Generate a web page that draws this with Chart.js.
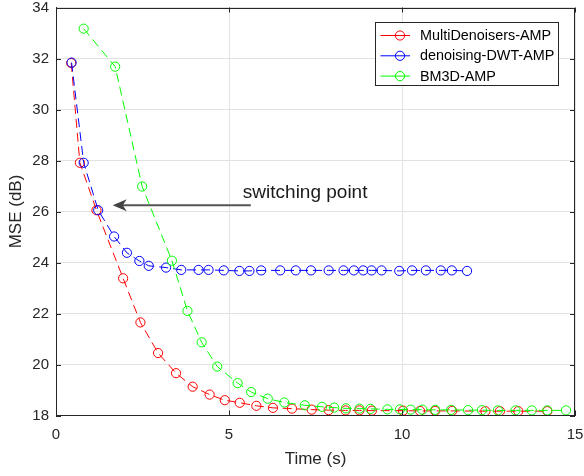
<!DOCTYPE html>
<html>
<head>
<meta charset="utf-8">
<script src="https://cdn.jsdelivr.net/npm/chart.js@4.4.1/dist/chart.umd.min.js"></script>
<style>
html,body{margin:0;padding:0;background:#fff;}
#wrap{width:584px;height:476px;position:relative;}
</style>
</head>
<body>
<div id="wrap"><canvas id="c" width="584" height="476"></canvas></div>
<script>
// ---- data ----
const seriesNames = ["MultiDenoisers-AMP", "denoising-DWT-AMP", "BM3D-AMP"];
const multiX = [0.44, 0.69, 1.17, 1.94, 2.44, 2.95, 3.47, 3.95, 4.44, 4.88, 5.31, 5.79, 6.27, 6.82, 7.39, 7.88, 8.37, 8.77, 9.13, 10.03, 10.52, 10.96, 11.45, 12.41, 12.83, 13.36, 14.2];
const multiY = [31.82, 27.91, 26.05, 23.38, 21.65, 20.45, 19.66, 19.13, 18.82, 18.6, 18.5, 18.38, 18.3, 18.27, 18.23, 18.21, 18.2, 18.2, 18.19, 18.19, 18.18, 18.18, 18.18, 18.17, 18.17, 18.17, 18.17];
const dwtX = [0.45, 0.8, 1.22, 1.68, 2.05, 2.41, 2.68, 3.18, 3.62, 4.12, 4.41, 4.85, 5.3, 5.59, 5.93, 6.48, 6.93, 7.37, 7.88, 8.31, 8.61, 8.88, 9.12, 9.41, 9.92, 10.29, 10.69, 11.12, 11.44, 11.88];
const dwtY = [31.84, 27.91, 26.05, 25.02, 24.38, 24.06, 23.87, 23.8, 23.71, 23.71, 23.71, 23.69, 23.67, 23.67, 23.69, 23.69, 23.69, 23.69, 23.69, 23.69, 23.69, 23.69, 23.69, 23.69, 23.67, 23.69, 23.69, 23.69, 23.69, 23.67];
const bm3dX = [0.8, 1.71, 2.49, 3.35, 3.8, 4.21, 4.66, 5.25, 5.64, 6.12, 6.6, 7.19, 7.69, 8.04, 8.38, 8.77, 9.09, 9.58, 9.94, 10.25, 10.59, 10.96, 11.42, 11.91, 12.31, 12.77, 13.28, 13.75, 14.2, 14.74];
const bm3dY = [33.17, 31.68, 26.98, 24.07, 22.1, 20.87, 19.92, 19.27, 18.92, 18.66, 18.51, 18.4, 18.34, 18.31, 18.28, 18.27, 18.26, 18.24, 18.24, 18.23, 18.23, 18.22, 18.22, 18.21, 18.21, 18.2, 18.2, 18.2, 18.2, 18.2];
const xTicks = [0, 5, 10, 15];
const yTicks = [18, 20, 22, 24, 26, 28, 30, 32, 34];
const annotationText = "switching point";
const arrowFrom = [5.63, 26.25];
const arrowTo = [1.64, 26.25];
const textAt = [5.40, 26.52];
const xTitle = "Time (s)";
const yTitle = "MSE (dB)";

const colors = ["#ff0000", "#0000ff", "#00ff00"];
const AX = "#262626";
const FONT = "'Liberation Sans', Arial, Helvetica, sans-serif";

function pts(xs, ys) { return xs.map((x, i) => ({x: x, y: ys[i]})); }
const allX = [multiX, dwtX, bm3dX];
const allY = [multiY, dwtY, bm3dY];

const datasets = seriesNames.map((n, i) => ({
  label: n,
  data: pts(allX[i], allY[i]),
  borderColor: colors[i],
  backgroundColor: 'rgba(0,0,0,0)',
  borderWidth: 1,
  borderDash: [9, 5],
  pointRadius: 4.6,
  pointHoverRadius: 4.6,
  pointBorderWidth: 1,
  pointBorderColor: colors[i],
  pointBackgroundColor: 'rgba(0,0,0,0)',
  pointStyle: 'circle',
  tension: 0,
  fill: false,
  order: 3 - i
}));

const decor = {
  id: 'decor',
  afterDatasetsDraw(chart) {
    const ctx = chart.ctx;
    const a = chart.chartArea;
    const xs = chart.scales.x, ys = chart.scales.y;
    ctx.save();
    // box
    ctx.strokeStyle = AX;
    ctx.lineWidth = 1;
    ctx.strokeRect(Math.round(a.left) + 0.5, Math.round(a.top) + 0.5, Math.round(a.right - a.left) - 1, Math.round(a.bottom - a.top) - 1);
    // inward ticks
    const tl = 5;
    ctx.beginPath();
    xTicks.forEach(v => {
      const px = Math.round(xs.getPixelForValue(v)) + 0.5;
      ctx.moveTo(px, a.bottom); ctx.lineTo(px, a.bottom - tl);
      ctx.moveTo(px, a.top); ctx.lineTo(px, a.top + tl);
    });
    yTicks.forEach(v => {
      const py = Math.round(ys.getPixelForValue(v)) + 0.5;
      ctx.moveTo(a.left, py); ctx.lineTo(a.left + tl, py);
      ctx.moveTo(a.right, py); ctx.lineTo(a.right - tl, py);
    });
    ctx.stroke();

    // annotation arrow
    const x1 = xs.getPixelForValue(arrowFrom[0]), y1 = ys.getPixelForValue(arrowFrom[1]);
    const x2 = xs.getPixelForValue(arrowTo[0]), y2 = ys.getPixelForValue(arrowTo[1]);
    ctx.strokeStyle = '#555555';
    ctx.fillStyle = '#444444';
    ctx.lineWidth = 2;
    ctx.beginPath();
    ctx.moveTo(x1, y1); ctx.lineTo(x2 + 8, y2); ctx.stroke();
    ctx.beginPath();
    ctx.moveTo(x2, y2);
    ctx.lineTo(x2 + 14, y2 - 6);
    ctx.lineTo(x2 + 10, y2);
    ctx.lineTo(x2 + 14, y2 + 6);
    ctx.closePath();
    ctx.fill();
    // annotation text
    ctx.fillStyle = '#1a1a1a';
    ctx.font = "19px " + FONT;
    ctx.textAlign = 'left';
    ctx.textBaseline = 'alphabetic';
    ctx.fillText(annotationText, xs.getPixelForValue(textAt[0]), ys.getPixelForValue(textAt[1]));

    // legend
    const bx = Math.round(a.right - 200) + 0.5, by = Math.round(a.top + 14) + 0.5;
    const bw = 183, bh = 63;
    ctx.fillStyle = '#ffffff';
    ctx.fillRect(bx, by, bw, bh);
    ctx.strokeStyle = AX;
    ctx.lineWidth = 1;
    ctx.strokeRect(bx, by, bw, bh);
    ctx.font = "14.4px " + FONT;
    ctx.textBaseline = 'middle';
    chart.data.datasets.forEach((d, i) => {
      const yy = by + 13 + i * 20.3;
      ctx.strokeStyle = d.borderColor;
      ctx.lineWidth = 1;
      ctx.beginPath();
      ctx.moveTo(bx + 5, yy); ctx.lineTo(bx + 34.5, yy); ctx.stroke();
      ctx.beginPath();
      ctx.arc(bx + 24.5, yy, 4.6, 0, Math.PI * 2); ctx.stroke();
      ctx.fillStyle = '#000000';
      ctx.fillText(d.label, bx + 44.5, yy + 0.5);
    });
    ctx.restore();
  }
};

new Chart(document.getElementById('c'), {
  type: 'line',
  data: { datasets: datasets },
  options: {
    responsive: false,
    animation: false,
    devicePixelRatio: 1,
    layout: { padding: { left: 0, right: 9, top: 7.5, bottom: 0 } },
    plugins: { legend: { display: false }, tooltip: { enabled: false } },
    scales: {
      x: {
        type: 'linear',
        min: 0, max: 15,
        afterBuildTicks: s => { s.ticks = xTicks.map(v => ({value: v})); },
        afterFit: s => { s.height = 60.5; s.paddingLeft = 0; s.paddingRight = 0; },
        grid: { color: '#e2e2e2', lineWidth: 1, drawTicks: false },
        border: { display: true, color: AX, width: 1 },
        ticks: { color: AX, font: { family: FONT, size: 15, lineHeight: 1 }, padding: 12, maxRotation: 0 },
        title: { display: true, text: xTitle, color: AX, font: { family: FONT, size: 17 }, padding: { top: 0, bottom: 6 } }
      },
      y: {
        type: 'linear',
        min: 18, max: 34,
        afterBuildTicks: s => { s.ticks = yTicks.map(v => ({value: v})); },
        afterFit: s => { s.width = 56; s.paddingTop = 0; s.paddingBottom = 0; },
        grid: { color: '#e2e2e2', lineWidth: 1, drawTicks: false },
        border: { display: true, color: AX, width: 1 },
        ticks: { color: AX, font: { family: FONT, size: 15, lineHeight: 1 }, padding: 7 },
        title: { display: true, text: yTitle, color: AX, font: { family: FONT, size: 17 }, padding: { top: 6, bottom: 0 } }
      }
    }
  },
  plugins: [decor]
});
</script>
</body>
</html>
